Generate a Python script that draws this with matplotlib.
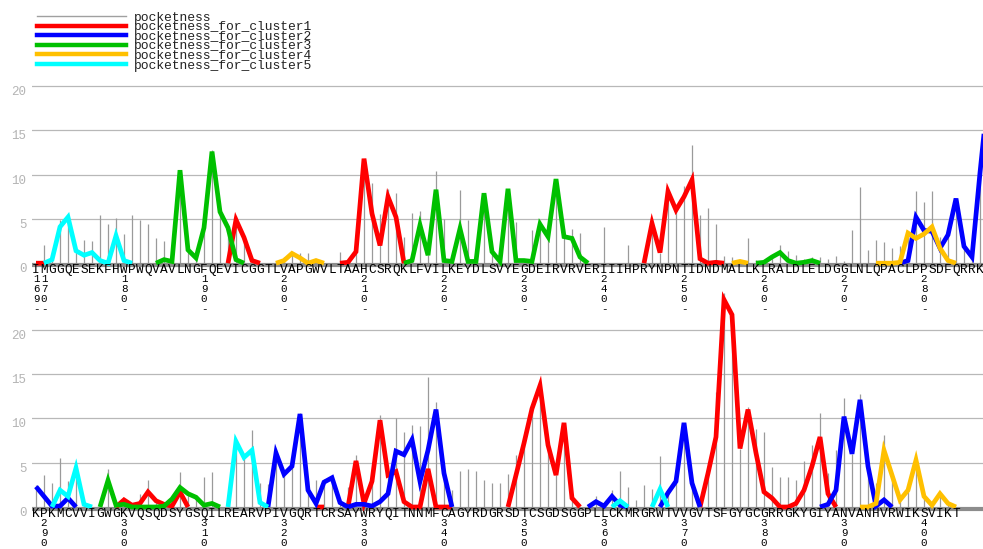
import numpy as np
import matplotlib
matplotlib.use("Agg")
import matplotlib.pyplot as plt
from matplotlib.lines import Line2D
from matplotlib.transforms import offset_copy

plt.rcParams['font.family'] = ['Liberation Mono', 'DejaVu Sans Mono']

# ---- data -------------------------------------------------------------
first_res = 169
top_seq = ("IMGGQESEKFHWPWQVAVLNGFQEVICGGTLVAPGWVLTAAHCSRQKLFVILKEYDLSVYEGDEIRVRVE"
           "RIIIHPRYNPNTIDNDMALLKLRALDLELDGGLNLQPACLPPSDFQRRK")
bottom_seq = ("KPKMCVVIGWGKVQSQDSYGSQILREARVPIVGQRTCRSAYWRYQITNNMFCAGYRDGRSDTCSGDSGGP"
              "LLCKMRGRWTVVGVTSFGYGCGRRGKYGIYANVANHVRWIKSVIKT")
per_row = 120   # residues per panel (169-288, 289-408)

pocket_top = [0, 2.0, 0.3, 4.9, 5.2, 1.5, 2.6, 2.5, 5.4, 4.4,
              5.1, 3.3, 5.4, 4.9, 4.4, 2.9, 2.5, 0.3, 10.5, 1.5,
              0.6, 4.0, 12.8, 5.9, 4.0, 5.3, 2.9, 0.3, 0, 0,
              0.2, 0.7, 1.2, 1.1, 1.2, 0.3, 0, 0, 1.3, 0.2,
              1.3, 11.8, 9.0, 5.6, 8.4, 7.9, 3.0, 5.7, 5.9, 0.9,
              10.4, 5.0, 0.2, 8.3, 4.9, 0.3, 7.9, 1.3, 0.2, 8.4,
              4.7, 0.3, 3.8, 4.9, 3.0, 9.5, 3.9, 3.9, 3.4, 0,
              0, 4.1, 0, 0, 2.0, 0, 0, 4.5, 1.2, 8.1,
              6.0, 8.7, 13.3, 5.4, 6.2, 4.4, 0.8, 0.7, 0.2, 2.8,
              0.4, 0.1, 0.7, 2.1, 1.4, 0.9, 0.5, 0.7, 0.7, 0.5,
              0.8, 0.3, 3.7, 8.6, 1.5, 2.6, 2.4, 1.7, 1.9, 3.4,
              8.1, 6.9, 8.1, 3.0, 3.2, 7.3, 2.0, 0.8, 10.2, 16]
pocket_bottom = [2.5, 3.6, 2.7, 5.5, 2.9, 4.4, 0.3, 0, 0, 4.3,
                 0.2, 0.8, 0.2, 1.5, 3.0, 0.7, 0.3, 0.9, 3.9, 1.5,
                 1.1, 3.4, 3.9, 0, 0, 6.8, 5.7, 8.7, 2.7, 2.6,
                 6.1, 4.2, 4.7, 10.6, 2.9, 3.0, 3.2, 3.3, 0.5, 2.3,
                 5.9, 0.4, 2.9, 10.4, 3.6, 10.0, 8.5, 9.3, 9.1, 14.7,
                 11.8, 3.8, 1.9, 4.1, 4.3, 4.1, 3.1, 2.7, 2.7, 3.7,
                 5.9, 7.2, 11.1, 13.7, 7.0, 3.6, 9.5, 1.0, 0, 0,
                 1.2, 0, 1.9, 4.1, 2.3, 0.8, 2.5, 2.0, 5.7, 1.6,
                 2.9, 9.5, 2.7, 0, 3.8, 13.0, 24.1, 21.7, 6.6, 11.3,
                 8.8, 8.5, 4.5, 3.4, 3.4, 3.1, 5.2, 7.0, 10.6, 3.8,
                 6.4, 12.3, 6.0, 12.8, 4.6, 2.7, 8.1, 3.2, 0.8, 1.9,
                 5.3, 1.2, 0.2, 1.5, 0.4, 0]

# cluster curves: (first residue, values)
cluster1 = [(169, [0, 0]),
            (193, [0, 4.9, 2.9, 0.3, 0]),
            (207, [0, 0.1, 1.3, 11.8, 5.6, 2.0, 7.5, 5.2, 0]),
            (245, [0, 4.5, 1.2, 8.1, 6.0, 7.5, 9.4, 0.5, 0, 0.1, 0]),
            (299, [0, 0.8, 0.2, 0.4, 1.7, 0.7, 0.3, 0.1, 1.7, 0]),
            (324, [0, 0]),
            (328, [0, 5.2, 0.4, 2.9, 9.8, 3.6, 4.0, 0.6, 0, 0, 4.3, 0, 0, 0]),
            (348, [0, 3.6, 7.2, 11.1, 13.7, 7.0, 3.6, 9.5, 1.0, 0]),
            (372, [0, 3.8, 7.9, 23.4, 21.7, 6.6, 11.0, 6.1, 1.7, 1.0, 0, 0,
                   0.4, 1.9, 4.6, 7.9, 1.5, 0])]
cluster2 = [(277, [0, 0.3, 5.2, 3.7, 3.6, 1.7, 3.2, 7.3, 1.9, 0.7, 10.2, 19]),
            (289, [2.3, 1.2, 0.1, 0.1, 1.0, 0]),
            (318, [0, 6.1, 3.7, 4.6, 10.5, 1.9, 0.4, 2.8, 3.3, 0.5, 0, 0.3,
                   0.3, 0.1, 0.6, 1.5, 6.3, 5.9, 7.6, 2.9, 6.4, 11.0, 3.8, 0]),
            (358, [0, 0.6, 0.1, 1.2, 0.2, 0]),
            (367, [0, 1.6, 2.9, 9.5, 2.7, 0]),
            (387, [0, 0.3, 1.9, 10.2, 6.0, 12.1, 4.6, 0.1, 0.8, 0])]
cluster3 = [(184, [0, 0.4, 0.2, 10.5, 1.5, 0.6, 4.0, 12.6, 5.8, 4.0, 0.4, 0]),
            (215, [0, 0.3, 4.3, 0.9, 8.3, 0.3, 0.2, 3.9, 0.2, 0.2, 7.9, 1.3,
                   0.2, 8.4, 0.3, 0.3, 0.2, 4.4, 3.0, 9.5, 3.0, 2.8, 0.7, 0]),
            (259, [0, 0.1, 0.7, 1.2, 0.3, 0, 0.1, 0.3, 0]),
            (297, [0, 3.0, 0.2, 0.3, 0, 0, 0, 0, 0.1, 0.9, 2.2, 1.5, 1.1, 0.2, 0.4, 0])]
cluster4 = [(199, [0, 0.3, 1.1, 0.6, 0, 0.3, 0]),
            (256, [0, 0.2, 0]),
            (274, [0, 0, 0, 0.1, 3.4, 2.8, 3.3, 4.1, 1.7, 0.3, 0]),
            (392, [0, 0, 0.4, 6.4, 3.6, 0.8, 1.9, 5.3, 1.2, 0.2, 1.5, 0.4, 0])]
cluster5 = [(170, [0, 0.4, 4.1, 5.2, 1.4, 0.9, 1.2, 0.3, 0, 3.1, 0.3, 0]),
            (291, [0, 1.9, 1.2, 4.4, 0.3, 0]),
            (313, [0, 7.4, 5.6, 6.4, 0.5, 0]),
            (361, [0, 0.7, 0]),
            (366, [0, 2.0, 0])]

names = ["pocketness", "pocketness_for_cluster1", "pocketness_for_cluster2",
         "pocketness_for_cluster3", "pocketness_for_cluster4", "pocketness_for_cluster5"]
colors = ["#a0a0a0", "#ff0000", "#0000ff", "#00c000", "#ffc000", "#00ffff"]
clusters = [cluster1, cluster2, cluster3, cluster4, cluster5]

# ---- layout (pixels) --------------------------------------------------
W, H = 983, 549
fig = plt.figure(figsize=(W / 100, H / 100), dpi=100)
UNIT = 8.86      # px per pocketness unit
PITCH = 8.0      # px per residue
X0 = 36          # centre of first residue


def curve(segments):
    arr = np.full(2 * per_row, np.nan)
    for start, vals in segments:
        k = start - first_res
        arr[k:k + len(vals)] = vals
    return arr


curves = [curve(c) for c in clusters]


def panel(base_px, row, seq, pocket, ymin=-1.0, ymax=25.0):
    bottom_px = base_px - ymin * UNIT
    ax = fig.add_axes([(X0 - PITCH / 2) / W, (H - bottom_px) / H,
                       per_row * PITCH / W, (ymax - ymin) * UNIT / H])
    ax.set_xlim(-0.5, per_row - 0.5)
    ax.set_ylim(ymin, ymax)
    ax.patch.set_visible(False)
    for s in ax.spines.values():
        s.set_visible(False)
    ax.set_xticks([])
    ax.set_yticks([0, 5, 10, 15, 20])
    ax.set_yticklabels(["0", "5", "10", "15", "20"])
    ax.tick_params(axis='y', length=0, pad=4, labelsize=9, labelcolor='#b4b4b4')
    for lab in ax.get_yticklabels():
        lab.set_verticalalignment('top')
    for v in (5, 10, 15, 20):
        ax.axhline(v, color='#b8b8b8', lw=0.9, zorder=0)

    idx = np.arange(len(pocket))
    ax.vlines(idx, 0, pocket, color='#9a9a9a', lw=0.9, zorder=1)
    ax.axhline(-0.2, color='#8c8c8c', lw=3, zorder=2)

    lo = row * per_row
    for arr, col in zip(curves, colors[1:]):
        seg = arr[lo:lo + per_row]
        ax.plot(np.arange(per_row), seg, color=col, lw=3.4,
                solid_joinstyle='miter', solid_capstyle='butt', zorder=3)

    start = first_res + lo
    for i, ch in enumerate(seq):
        tr = offset_copy(ax.transData, fig=fig, y=-10, units='dots')
        ax.text(i, 0, ch, transform=tr, ha='center', va='baseline',
                fontsize=9.2, color='black', clip_on=False)
        res = start + i
        if res % 10 == 0 or res == first_res:
            for k, d in enumerate(str(res) + "-"):
                tr = offset_copy(ax.transData, fig=fig, y=-(19 + 10 * k), units='dots')
                ax.text(i, 0, d, transform=tr, ha='center', va='baseline',
                        fontsize=7.8, color='black', clip_on=False)
    return ax


panel(263.2, 0, top_seq, pocket_top)
panel(507.0, 1, bottom_seq, pocket_bottom)

# ---- legend -----------------------------------------------------------
for k, (name, col) in enumerate(zip(names, colors)):
    y = 16 + 9.6 * k
    lw = 1.0 if k == 0 else 3.2
    fig.add_artist(Line2D([37 / W, 126 / W], [1 - y / H, 1 - y / H],
                          color=col, lw=lw, transform=fig.transFigure))
    fig.text(134 / W, 1 - (y + 4.5) / H, name, fontsize=9.4, color='#222222',
             ha='left', va='baseline')

fig.savefig("out.png", dpi=100, facecolor='white')
